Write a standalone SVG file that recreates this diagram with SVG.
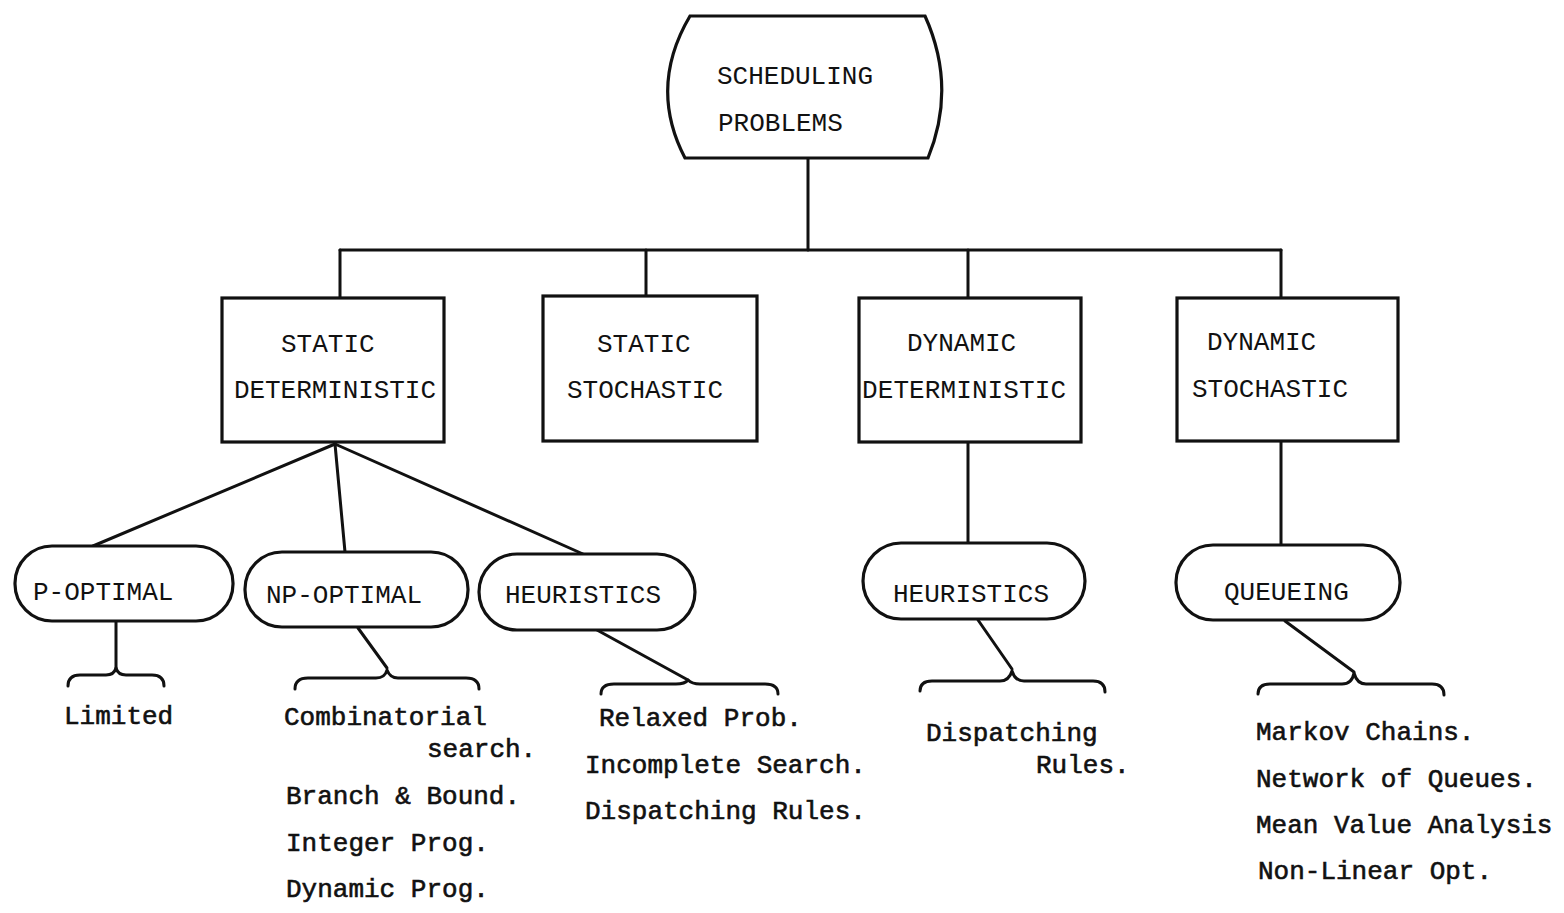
<svg xmlns="http://www.w3.org/2000/svg" width="1564" height="913" viewBox="0 0 1564 913">
<style>
.shape{fill:#fff;stroke:#111;stroke-width:3.2}
.ln{fill:none;stroke:#111;stroke-width:3;stroke-linecap:round;stroke-linejoin:round}
.t{font-family:"Liberation Mono","DejaVu Sans Mono",monospace;font-size:26px;fill:#111}
.b{font-family:"Liberation Mono","DejaVu Sans Mono",monospace;font-size:26px;fill:#111;stroke:#111;stroke-width:0.6}
</style>
<rect width="1564" height="913" fill="#fff"/>
<g id="connectors">
<line class="ln" x1="808" y1="158" x2="808" y2="250"/>
<line class="ln" x1="340" y1="250" x2="1281" y2="250"/>
<line class="ln" x1="340" y1="250" x2="340" y2="298"/>
<line class="ln" x1="646" y1="250" x2="646" y2="296"/>
<line class="ln" x1="968" y1="250" x2="968" y2="298"/>
<line class="ln" x1="1281" y1="250" x2="1281" y2="298"/>
<line class="ln" x1="335" y1="444" x2="93" y2="546"/>
<line class="ln" x1="335" y1="444" x2="345" y2="552"/>
<line class="ln" x1="335" y1="444" x2="583" y2="554"/>
<line class="ln" x1="968" y1="442" x2="968" y2="543"/>
<line class="ln" x1="1281" y1="441" x2="1281" y2="545"/>
<line class="ln" x1="116" y1="622" x2="116" y2="668"/>
<line class="ln" x1="358" y1="628" x2="387" y2="668"/>
<line class="ln" x1="597" y1="630" x2="688" y2="680"/>
<line class="ln" x1="978" y1="620" x2="1012" y2="669"/>
<line class="ln" x1="1285" y1="621" x2="1354" y2="672"/>
<path class="ln" d="M68,686 Q68,675 80,675 L106,675 Q114,675 116,668 Q118,675 126,675 L152,675 Q164,675 164,686"/>
<path class="ln" d="M295,689 Q295,678 308,678 L376,678 Q385,678 387,670 Q390,678 398,678 L466,678 Q479,678 479,689"/>
<path class="ln" d="M601,694 Q601,684 614,684 L676,684 Q685,684 688,680 Q692,684 700,684 L765,684 Q778,684 778,694"/>
<path class="ln" d="M920,691 Q920,681 932,681 L1000,681 Q1009,681 1012,671 Q1015,681 1024,681 L1093,681 Q1105,681 1105,692"/>
<path class="ln" d="M1258,694 Q1258,684 1270,684 L1342,684 Q1352,684 1354,673 Q1357,684 1366,684 L1432,684 Q1444,684 1444,695"/>
</g>
<g id="scheduling-problems">
<path class="shape" d="M690,16 L925,16 Q957,87 928,158 L685,158 Q648,87 690,16 Z"/>
<text class="t" x="717" y="84">SCHEDULING</text>
<text class="t" x="718" y="131">PROBLEMS</text>
</g>
<g id="static-deterministic">
<rect class="shape" x="222" y="298" width="222" height="144"/>
<text class="t" x="234" y="398" textLength="202">DETERMINISTIC</text>
<text class="t" x="281" y="352">STATIC</text>
</g>
<g id="static-stochastic">
<rect class="shape" x="543" y="296" width="214" height="145"/>
<text class="t" x="597" y="352">STATIC</text>
<text class="t" x="567" y="398">STOCHASTIC</text>
</g>
<g id="dynamic-deterministic">
<rect class="shape" x="859" y="298" width="222" height="144"/>
<text class="t" x="907" y="351">DYNAMIC</text>
<text class="t" x="862" y="398" textLength="204">DETERMINISTIC</text>
</g>
<g id="dynamic-stochastic">
<rect class="shape" x="1177" y="298" width="221" height="143"/>
<text class="t" x="1207" y="350">DYNAMIC</text>
<text class="t" x="1192" y="397">STOCHASTIC</text>
</g>
<g id="p-optimal">
<rect class="shape" x="15" y="546" width="218" height="75" rx="37" ry="37"/>
<text class="t" x="33" y="600">P-OPTIMAL</text>
</g>
<g id="np-optimal">
<rect class="shape" x="245" y="552" width="223" height="75" rx="37" ry="37"/>
<text class="t" x="266" y="603">NP-OPTIMAL</text>
</g>
<g id="heuristics-static">
<rect class="shape" x="479" y="554" width="216" height="76" rx="38" ry="38"/>
<text class="t" x="505" y="603">HEURISTICS</text>
</g>
<g id="heuristics-dynamic">
<rect class="shape" x="863" y="543" width="222" height="76" rx="38" ry="38"/>
<text class="t" x="893" y="602">HEURISTICS</text>
</g>
<g id="queueing">
<rect class="shape" x="1176" y="545" width="224" height="75" rx="37" ry="37"/>
<text class="t" x="1224" y="600">QUEUEING</text>
</g>
<g id="limited">
<text class="b" x="64" y="724">Limited</text>
</g>
<g id="np-methods">
<text class="b" x="284" y="725">Combinatorial</text>
<text class="b" x="427" y="757">search.</text>
<text class="b" x="286" y="804">Branch &amp; Bound.</text>
<text class="b" x="286" y="851">Integer Prog.</text>
<text class="b" x="286" y="897">Dynamic Prog.</text>
</g>
<g id="heuristic-methods">
<text class="b" x="599" y="726">Relaxed Prob.</text>
<text class="b" x="585" y="773">Incomplete Search.</text>
<text class="b" x="585" y="819">Dispatching Rules.</text>
</g>
<g id="dispatching-rules">
<text class="b" x="926" y="741">Dispatching</text>
<text class="b" x="1036" y="773">Rules.</text>
</g>
<g id="queueing-methods">
<text class="b" x="1256" y="740">Markov Chains.</text>
<text class="b" x="1256" y="787">Network of Queues.</text>
<text class="b" x="1256" y="833">Mean Value Analysis</text>
<text class="b" x="1258" y="879">Non-Linear Opt.</text>
</g>
</svg>
